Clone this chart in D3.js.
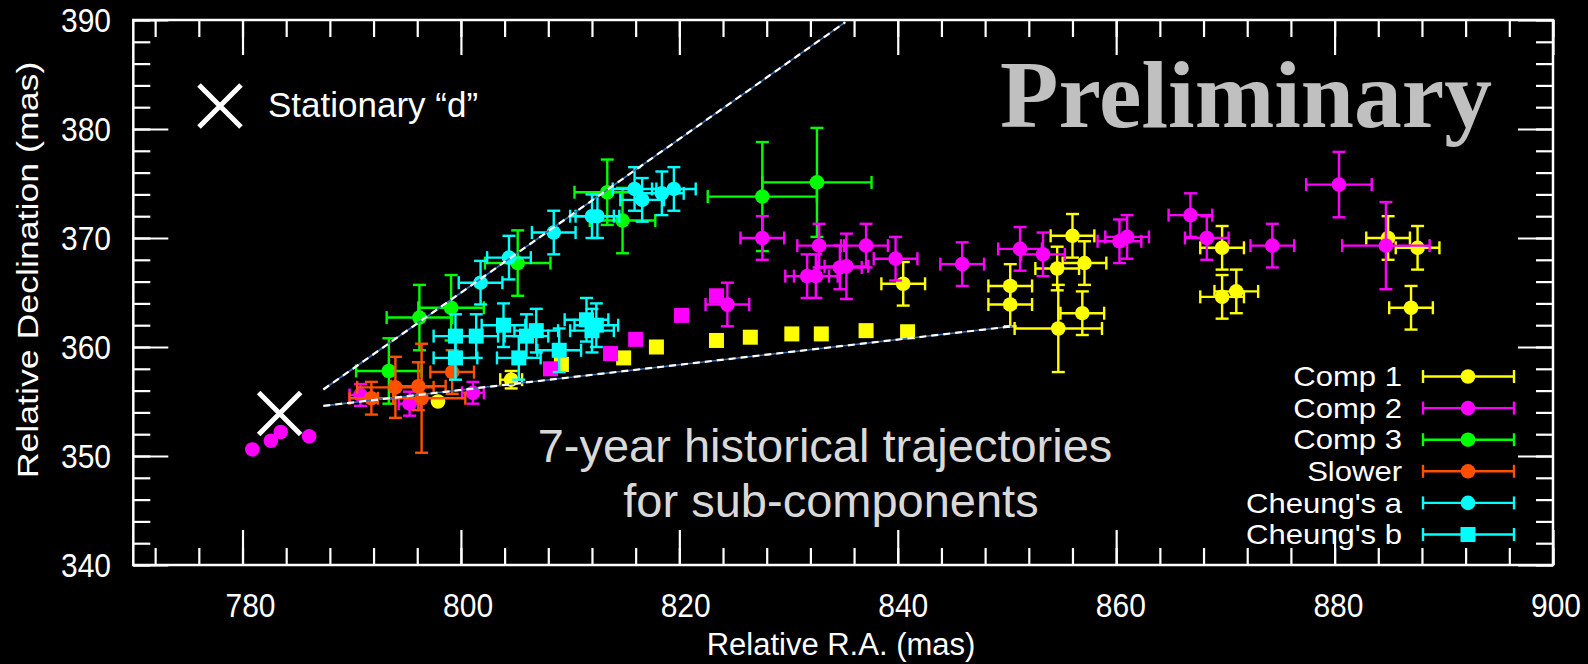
<!DOCTYPE html>
<html>
<head>
<meta charset="utf-8">
<script src="https://cdn.jsdelivr.net/npm/d3@7"></script>
<style>
  html, body { margin: 0; padding: 0; background: #000; }
  svg { display: block; font-family: "Liberation Sans", Arial, Helvetica, sans-serif; }
</style>
</head>
<body>
<svg id="chart" width="1588" height="664"></svg>
<script>
// ---- data: relative R.A. / Dec (mas) with 1-sigma errors [ra, dec, eRa, eDec] ----
const comp1 = [
  [884.9, 370.0, 2, 2], [887.6, 369.1, 2, 2], [887.0, 363.6, 2, 2],
  [856.0, 370.2, 2, 2], [857.1, 367.7, 2, 2], [854.6, 367.2, 2, 2],
  [850.3, 365.6, 2, 2], [850.3, 363.9, 2, 2], [856.9, 363.1, 2, 2],
  [854.7, 361.7, 4, 4], [840.5, 365.8, 2, 2], [869.7, 369.1, 2, 2],
  [869.7, 364.6, 2, 2], [871.0, 365.1, 2, 2], [804.6, 357.0, 1, 0.8],
  [797.9, 355.0, 0, 0]
];
const comp2 = [
  [880.4, 374.9, 3, 3], [884.7, 369.3, 4, 4], [845.9, 367.6, 2, 2],
  [851.2, 369.0, 2, 2], [853.3, 368.5, 2, 2], [860.3, 369.7, 2, 2],
  [861.0, 370.1, 2, 2], [866.8, 372.1, 2, 2], [868.3, 370.0, 2, 2],
  [874.3, 369.3, 2, 2], [827.6, 370.0, 2, 2], [832.8, 369.3, 2, 2],
  [837.1, 369.3, 2, 2], [834.7, 367.3, 2, 2], [835.3, 367.4, 2, 3],
  [831.7, 366.5, 2, 2], [832.5, 366.5, 2, 2], [839.8, 368.1, 2, 2],
  [824.4, 363.9, 2, 2], [801.1, 355.8, 1, 1], [795.3, 354.8, 1, 1.1],
  [790.8, 355.6, 1, 1],
  [780.9, 350.6, 0, 0], [782.6, 351.4, 0, 0], [783.5, 352.2, 0, 0], [786.1, 351.8, 0, 0]
];
const comp3 = [
  [827.6, 373.8, 5, 5], [832.6, 375.1, 5, 5], [813.4, 374.2, 3, 3],
  [814.8, 371.6, 3, 3], [796.2, 362.7, 3, 3], [799.1, 363.6, 3, 3],
  [793.4, 357.8, 3, 3], [805.2, 367.7, 3, 3]
];
const slower = [
  [791.8, 355.3, 2, 1.5], [794.0, 356.3, 3.5, 2.8], [796.1, 356.4, 2.5, 2.2],
  [796.4, 355.3, 4, 5], [799.2, 357.7, 2, 2]
];
const cheungA = [
  [801.8, 365.9, 2, 2], [804.4, 368.2, 2, 2], [808.5, 370.5, 2, 2],
  [812.0, 372.0, 2, 2], [812.5, 372.0, 2, 2], [815.9, 374.5, 2, 2],
  [816.6, 373.5, 2, 2], [818.4, 374.1, 2, 2], [819.5, 374.5, 2, 2]
];
const cheungB = [
  [799.5, 361.0, 2, 2], [801.4, 361.0, 2, 2], [803.9, 362.0, 2, 2],
  [806.0, 361.0, 2, 2], [806.9, 361.5, 2, 2], [799.5, 359.0, 2, 2],
  [805.3, 359.0, 2, 2], [809.0, 359.7, 2, 2], [811.5, 362.5, 2, 2],
  [812.0, 361.5, 2, 2], [812.4, 362.0, 2, 2]
];
// unlabelled square markers (no error bars)
const comp1Sq = [
  [809.2, 358.4], [814.9, 359.0], [817.9, 360.0], [823.4, 360.6], [826.5, 360.9],
  [830.3, 361.2], [833.0, 361.2], [837.1, 361.5], [840.9, 361.4]
];
const comp2Sq = [
  [808.2, 358.0], [813.7, 359.4], [816.0, 360.7], [820.2, 362.9], [823.4, 364.7]
];
const stationaryD = [783.4, 353.9];
const trendUpper = [[787.4, 356.1], [835.2, 389.8]];
const trendLower = [[787.4, 354.6], [850.5, 361.9]];

const xDomain = [770, 900];
const yDomain = [340, 390];
const xMajor = [780, 800, 820, 840, 860, 880, 900];
const yMajor = [340, 350, 360, 370, 380, 390];
const xMinor = d3.range(772, 901, 4);
const yMinor = d3.range(340, 391, 2);

const legendNames = ["Comp 1", "Comp 2", "Comp 3", "Slower", "Cheung's a", "Cheung's b"];
const legendColors = ["#ffff00", "#ff00ff", "#00ff00", "#ff5000", "#00ffff", "#00ffff"];
const legendShapes = ["circle", "circle", "circle", "circle", "circle", "square"];

// ---- layout ----
const svg = d3.select("#chart");
const L = 133.3, R = 1553, T = 20, B = 565;
const x = d3.scaleLinear(xDomain, [L, R]);
const y = d3.scaleLinear(yDomain, [B, T]);

svg.append("rect").attr("width", 1588).attr("height", 664).attr("fill", "#000");

// ---- axes: inward ticks on all four sides ----
const tickStyle = g => {
  g.select(".domain").remove();
  g.selectAll(".tick line").attr("stroke", "#fff").attr("stroke-width", 2.2);
};
function ticks(axisFn, scale, pos, values, len) {
  svg.append("g").attr("transform", pos)
    .call(axisFn(scale).tickValues(values).tickSize(-len).tickFormat(""))
    .call(tickStyle);
}
ticks(d3.axisBottom, x, `translate(0,${B})`, xMinor, 17);
ticks(d3.axisBottom, x, `translate(0,${B})`, xMajor, 35);
ticks(d3.axisTop, x, `translate(0,${T})`, xMinor, 17);
ticks(d3.axisTop, x, `translate(0,${T})`, xMajor, 35);
ticks(d3.axisLeft, y, `translate(${L},0)`, yMinor, 17);
ticks(d3.axisLeft, y, `translate(${L},0)`, yMajor, 35);
ticks(d3.axisRight, y, `translate(${R},0)`, yMinor, 17);
ticks(d3.axisRight, y, `translate(${R},0)`, yMajor, 35);

svg.append("rect").attr("x", L).attr("y", T).attr("width", R - L).attr("height", B - T)
  .attr("fill", "none").attr("stroke", "#fff").attr("stroke-width", 2.5);

// tick labels (slightly tall lettering)
svg.append("g").selectAll("text").data(xMajor).join("text")
  .attr("transform", d => `translate(${x(d) + 3 + 5 * (900 - d) / 120},617) scale(1,1.1)`)
  .attr("text-anchor", "middle").attr("fill", "#fff").attr("font-size", 30)
  .text(d3.format("d"));
svg.append("g").selectAll("text").data(yMajor).join("text")
  .attr("transform", d => `translate(111,${y(d) + 11.5}) scale(1,1.1)`)
  .attr("text-anchor", "end").attr("fill", "#fff").attr("font-size", 30)
  .text(d3.format("d"));

// axis titles
svg.append("text").attr("x", 841).attr("y", 655).attr("text-anchor", "middle")
  .attr("fill", "#fff").attr("font-size", 31).text("Relative R.A. (mas)");
svg.append("text").attr("transform", "translate(38,270) rotate(-90) scale(1.19,1)")
  .attr("text-anchor", "middle").attr("fill", "#fff").attr("font-size", 30)
  .text("Relative Declination (mas)");

// ---- annotations ----
svg.append("text").attr("x", 1000).attr("y", 127)
  .style("font-family", "'Liberation Serif', 'Times New Roman', serif")
  .attr("font-weight", "bold").attr("font-size", 96).attr("fill", "#c0c0c0")
  .attr("textLength", 492).attr("lengthAdjust", "spacingAndGlyphs")
  .text("Preliminary");

svg.append("text").attr("x", 825).attr("y", 462).attr("text-anchor", "middle")
  .attr("fill", "#d9d9d9").attr("font-size", 47).text("7-year historical trajectories");
svg.append("text").attr("x", 831).attr("y", 517).attr("text-anchor", "middle")
  .attr("fill", "#d9d9d9").attr("font-size", 47).text("for sub-components");

// ---- marks ----
const plot = svg.append("g");
const CAP = 6.5, EW = 2.4, RAD = 7.3, SQ = 15;

function drawSeries(data, color, shape) {
  const g = plot.append("g");
  data.forEach(([ra, dec, era, edec]) => {
    const cx = x(ra), cy = y(dec);
    if (era > 0) {
      const x0 = x(ra - era), x1 = x(ra + era);
      g.append("line").attr("x1", x0).attr("x2", x1).attr("y1", cy).attr("y2", cy);
      g.append("line").attr("x1", x0).attr("x2", x0).attr("y1", cy - CAP).attr("y2", cy + CAP);
      g.append("line").attr("x1", x1).attr("x2", x1).attr("y1", cy - CAP).attr("y2", cy + CAP);
    }
    if (edec > 0) {
      const y0 = y(dec - edec), y1 = y(dec + edec);
      g.append("line").attr("x1", cx).attr("x2", cx).attr("y1", y0).attr("y2", y1);
      g.append("line").attr("x1", cx - CAP).attr("x2", cx + CAP).attr("y1", y0).attr("y2", y0);
      g.append("line").attr("x1", cx - CAP).attr("x2", cx + CAP).attr("y1", y1).attr("y2", y1);
    }
  });
  g.selectAll("line").attr("stroke", color).attr("stroke-width", EW);
  if (shape === "square") {
    g.selectAll("rect.m").data(data).join("rect").attr("class", "m")
      .attr("x", d => x(d[0]) - SQ / 2).attr("y", d => y(d[1]) - SQ / 2)
      .attr("width", SQ).attr("height", SQ).attr("fill", color);
  } else {
    g.selectAll("circle").data(data).join("circle")
      .attr("cx", d => x(d[0])).attr("cy", d => y(d[1])).attr("r", RAD).attr("fill", color);
  }
}

drawSeries(comp1Sq.map(d => [d[0], d[1], 0, 0]), legendColors[0], "square");
drawSeries(comp2Sq.map(d => [d[0], d[1], 0, 0]), legendColors[1], "square");
drawSeries(comp1, legendColors[0], "circle");
drawSeries(comp3, legendColors[2], "circle");
drawSeries(comp2, legendColors[1], "circle");
drawSeries(slower, legendColors[3], "circle");
drawSeries(cheungA, legendColors[4], "circle");
drawSeries(cheungB, legendColors[5], "square");

// trend guides: white dashes over a thin blue line
[trendUpper, trendLower].forEach(seg => {
  const line = d3.line().x(d => x(d[0])).y(d => y(d[1]));
  plot.append("path").attr("d", line(seg)).attr("stroke", "#3a6fb0")
    .attr("stroke-width", 1.6).attr("fill", "none");
  plot.append("path").attr("d", line(seg)).attr("stroke", "#fff")
    .attr("stroke-width", 2.2).attr("stroke-dasharray", "7,5").attr("fill", "none");
});

// stationary component "d"
function cross(g, cx, cy, h) {
  g.append("path").attr("d", `M${cx - h},${cy - h}L${cx + h},${cy + h}M${cx - h},${cy + h}L${cx + h},${cy - h}`)
    .attr("stroke", "#fff").attr("stroke-width", 5).attr("fill", "none");
}
cross(plot, x(stationaryD[0]), y(stationaryD[1]), 21);
cross(svg, 220, 106, 21);
svg.append("text").attr("x", 268).attr("y", 117).attr("fill", "#fff")
  .attr("font-size", 35).text("Stationary \u201cd\u201d");

// ---- legend ----
const leg = svg.append("g");
legendNames.forEach((name, i) => {
  const ly = 376.5 + i * 31.6;
  const c = legendColors[i];
  leg.append("text").attr("transform", `translate(1402,${ly + 9.6}) scale(1.15,1)`)
    .attr("text-anchor", "end").attr("fill", "#fff").attr("font-size", 27).text(name);
  leg.append("line").attr("x1", 1423).attr("x2", 1514).attr("y1", ly).attr("y2", ly)
    .attr("stroke", c).attr("stroke-width", EW);
  [1423, 1514].forEach(ex => leg.append("line").attr("x1", ex).attr("x2", ex)
    .attr("y1", ly - CAP).attr("y2", ly + CAP).attr("stroke", c).attr("stroke-width", EW));
  if (legendShapes[i] === "square") {
    leg.append("rect").attr("x", 1468 - SQ / 2).attr("y", ly - SQ / 2)
      .attr("width", SQ).attr("height", SQ).attr("fill", c);
  } else {
    leg.append("circle").attr("cx", 1468).attr("cy", ly).attr("r", RAD).attr("fill", c);
  }
});
</script>
</body>
</html>
